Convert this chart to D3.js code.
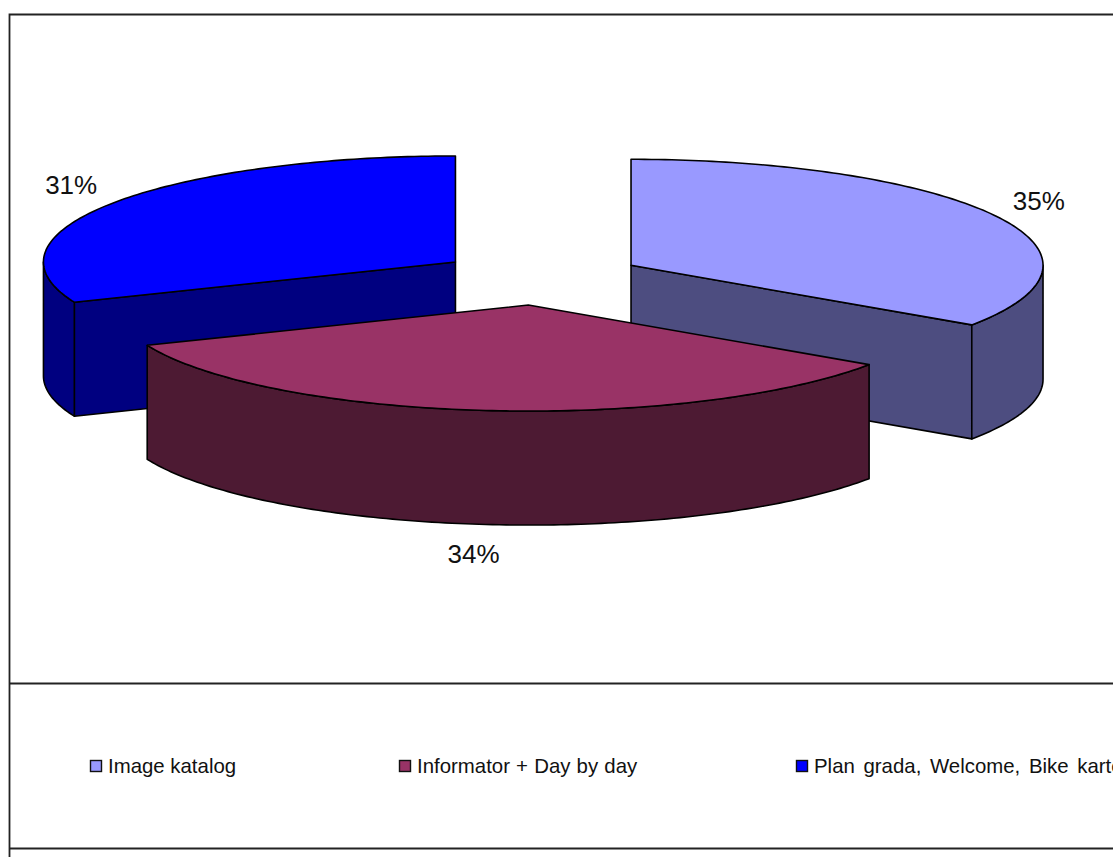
<!DOCTYPE html>
<html>
<head>
<meta charset="utf-8">
<script src="https://cdn.jsdelivr.net/npm/d3@7"></script>
<style>
  html, body { margin: 0; padding: 0; background: #fff; overflow: hidden; }
  svg { display: block; }
  text { font-family: "Liberation Sans", Arial, sans-serif; fill: #111; }
</style>
</head>
<body>
<div id="chart"></div>
<script>
// the data
const categories = ["Image katalog", "Informator + Day by day", "Plan grada, Welcome, Bike karte"];
const shares = [34.5, 34.3, 31.2];
const percentLabels = ["35%", "34%", "31%"];

const topColors = ["#9999FF", "#993366", "#0000FF"];
const wallColors = ["#4D4D80", "#4D1A33", "#000080"];

const width = 1113;
const height = 857;

// pie geometry (tilted disc)
const cx = 541, cy = 277.7;
const rx = 412, ry = 106;
const depth = 114;
const explode = 103;
// small fixes per slice after the radial explode
const nudgeX = [-1, -2, 0];
const nudgeY = [0, 1, -1];

var svg = d3.select("#chart").append("svg")
    .attr("width", width)
    .attr("height", height);

// chart frame, runs off the right and bottom of the page
svg.append("path")
    .attr("d", "M9.5," + height + "V14.5H" + width)
    .attr("fill", "none")
    .attr("stroke", "#222")
    .attr("stroke-width", 1.8);

// legend box lines
[683.5, 848.5].forEach(function(y) {
    svg.append("line")
        .attr("x1", 9).attr("x2", width)
        .attr("y1", y).attr("y2", y)
        .attr("stroke", "#222")
        .attr("stroke-width", 1.8);
});

// unit circle to screen offsets
var xs = d3.scaleLinear().domain([-1, 1]).range([-rx, rx]);
var ys = d3.scaleLinear().domain([-1, 1]).range([-ry, ry]);

var pie = d3.pie().sort(null).value(function(d) { return d; });
var slices = pie(shares).map(function(d, i) {
    var mid = (d.startAngle + d.endAngle) / 2;
    return {
        i: i,
        start: d.startAngle,
        end: d.endAngle,
        mid: mid,
        x0: cx + xs(Math.sin(mid) * explode / rx) + nudgeX[i],
        y0: cy + ys(-Math.cos(mid) * explode / rx) + nudgeY[i]
    };
});

function rim(s, a) {
    return [s.x0 + xs(Math.sin(a)), s.y0 + ys(-Math.cos(a))];
}

function rimPoints(s, a0, a1) {
    var n = Math.max(2, Math.ceil((a1 - a0) * 60));
    return d3.range(n + 1).map(function(k) { return rim(s, a0 + (a1 - a0) * k / n); });
}

var line = d3.line();

function drop(p) { return [p[0], p[1] + depth]; }

function drawFace(g, pts, fill) {
    g.append("path")
        .attr("d", line(pts) + "Z")
        .attr("fill", fill)
        .attr("stroke", "#000")
        .attr("stroke-width", 1.6)
        .attr("stroke-linejoin", "round");
}

// back to front: blue, light blue, then the plum slice on top
[2, 0, 1].forEach(function(idx) {
    var s = slices[idx];
    var g = svg.append("g");
    var apex = [s.x0, s.y0];

    // cut faces that turn towards the viewer
    if (Math.sin(s.end) > 1e-6) {
        var e = rim(s, s.end);
        drawFace(g, [apex, e, drop(e), drop(apex)], wallColors[idx]);
    }
    if (Math.sin(s.start) < -1e-6) {
        var b = rim(s, s.start);
        drawFace(g, [apex, b, drop(b), drop(apex)], wallColors[idx]);
    }

    // outer wall, only the front half of the rim
    var a0 = Math.max(s.start, Math.PI / 2);
    var a1 = Math.min(s.end, 3 * Math.PI / 2);
    if (a1 > a0) {
        var upper = rimPoints(s, a0, a1);
        drawFace(g, upper.concat(upper.slice().reverse().map(drop)), wallColors[idx]);
    }

    // top
    drawFace(g, [apex].concat(rimPoints(s, s.start, s.end)), topColors[idx]);
});

// percent labels
var labelDx = [0, -7, -1];
var labelDy = [0, -2, 0];
svg.selectAll(".pct")
    .data(slices)
    .enter().append("text")
    .attr("class", "pct")
    .attr("text-anchor", "middle")
    .attr("font-size", 26)
    .attr("x", function(d) { return d.x0 + xs(Math.sin(d.mid) * 1.12) + labelDx[d.i]; })
    .attr("y", function(d) {
        var c = Math.cos(d.mid);
        return d.y0 + ys(-c * 1.3) + (c < 0 ? depth : 0) + 9 + labelDy[d.i];
    })
    .text(function(d) { return percentLabels[d.i]; });

// legend
var legendX = [90, 399, 796];
var legendWordGap = [0, 0.5, 3];
var legend = svg.selectAll(".legend")
    .data(categories)
    .enter().append("g")
    .attr("class", "legend")
    .attr("transform", function(d, i) { return "translate(" + legendX[i] + ",766)"; });

legend.append("rect")
    .attr("x", 0.5).attr("y", -5.5)
    .attr("width", 11).attr("height", 11)
    .attr("fill", function(d, i) { return topColors[i]; })
    .attr("stroke", "#111")
    .attr("stroke-width", 1.4);

legend.append("text")
    .attr("x", 18)
    .attr("y", 7)
    .attr("font-size", 20.4)
    .attr("word-spacing", function(d, i) { return legendWordGap[i]; })
    .text(function(d) { return d; });
</script>
</body>
</html>
